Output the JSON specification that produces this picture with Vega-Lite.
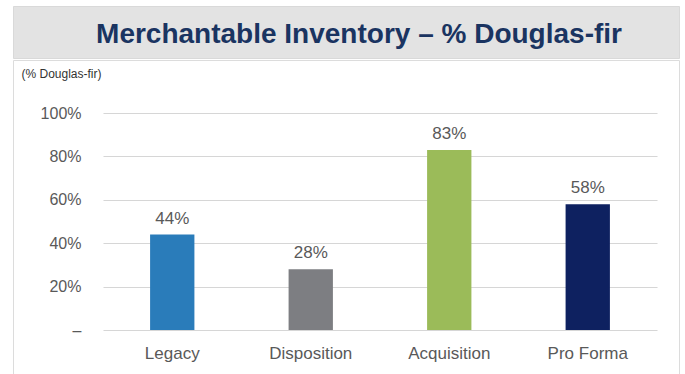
{
  "$schema": "https://vega.github.io/schema/vega-lite/v6.json",
  "padding": {"left": 12, "top": 5, "right": 7, "bottom": 0},
  "background": "white",
  "spacing": 0,
  "config": {"font": "Liberation Sans", "concat": {"spacing": 0}},
  "vconcat": [
    {
      "width": 666,
      "height": 52,
      "view": {"fill": "#e3e3e3", "stroke": "#d9d9d9"},
      "data": {"values": [{"title": "Merchantable Inventory – % Douglas-fir"}]},
      "mark": {"type": "text", "font": "Liberation Sans", "fontWeight": "bold", "fontSize": 28, "color": "#1a3461", "baseline": "alphabetic", "align": "center", "dy": 11, "dx": 13},
      "encoding": {"text": {"field": "title", "type": "nominal"}}
    },
    {
      "width": 666,
      "height": 317,
      "view": {"fill": "white", "stroke": "#dcdcdc"},
      "data": {"values": [
        {"category": "Legacy", "value": 0.44},
        {"category": "Disposition", "value": 0.28},
        {"category": "Acquisition", "value": 0.83},
        {"category": "Pro Forma", "value": 0.58}
      ]},
      "encoding": {
        "x": {"field": "category", "type": "nominal", "sort": null,
          "scale": {"range": [90, 644], "paddingInner": 0.68, "paddingOuter": 0.34},
          "axis": {"orient": "bottom", "offset": -47, "title": null, "labelAngle": 0, "labelFontSize": 17, "labelColor": "#595959", "labelPadding": 15, "ticks": false, "tickSize": 0, "domain": false, "grid": false}},
        "y": {"field": "value", "type": "quantitative",
          "scale": {"domain": [0, 1], "range": [270, 53], "nice": false, "zero": true},
          "axis": {"orient": "left", "offset": -90, "values": [0, 0.2, 0.4, 0.6, 0.8, 1],
            "labelExpr": "datum.value === 0 ? '–\u00a0\u00a0' : format(datum.value, '.0%')",
            "labelFontSize": 16, "labelColor": "#595959", "labelPadding": 22, "ticks": false, "tickSize": 0, "domain": false,
            "grid": true, "gridColor": "#d6d6d6", "gridWidth": 1.2,
            "title": "(% Douglas-fir)", "titleAngle": 0, "titleAlign": "left", "titleBaseline": "middle", "titleX": -82, "titleY": 13,
            "titleFontSize": 12, "titleFontWeight": "normal", "titleColor": "#333333"}}
      },
      "layer": [
        {
          "mark": {"type": "bar"},
          "encoding": {
            "color": {"field": "category", "type": "nominal", "legend": null,
              "scale": {"domain": ["Legacy", "Disposition", "Acquisition", "Pro Forma"], "range": ["#2a7cba", "#7d7e82", "#9bbb59", "#0e2160"]}}
          }
        },
        {
          "mark": {"type": "text", "baseline": "alphabetic", "dy": -11, "fontSize": 17, "color": "#595959"},
          "encoding": {"text": {"field": "value", "type": "quantitative", "format": ".0%"}}
        }
      ]
    }
  ]
}
